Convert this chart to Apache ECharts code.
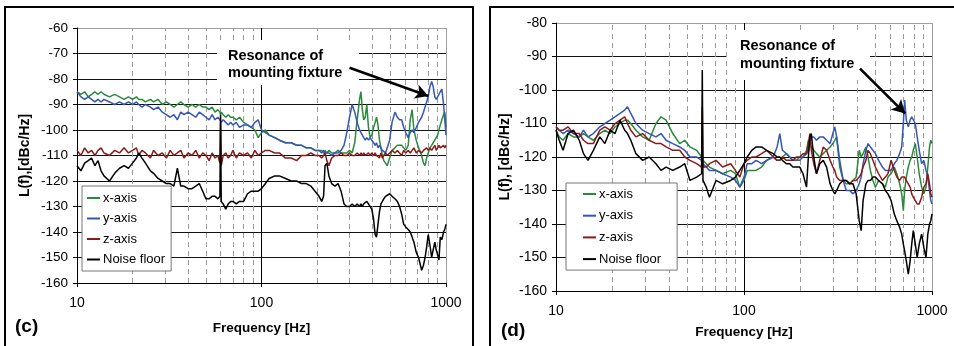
<!DOCTYPE html>
<html>
<head>
<meta charset="utf-8">
<script src="https://cdn.jsdelivr.net/npm/echarts@6/dist/echarts.min.js"></script>
<style>
  html, body { margin: 0; padding: 0; background: #fff; }
  #chart { width: 954px; height: 346px; }
</style>
</head>
<body>
<div id="chart"></div>
<script>
// legend names, shared by both panels
const seriesNames = ['x-axis', 'y-axis', 'z-axis', 'Noise floor'];
// dashed vertical grid lines (Hz)
const minorFreqs = [20, 30, 40, 50, 60, 70, 80, 90, 200, 300, 400, 500, 600, 700, 800, 900];

// ---- panel (c) ----
const freqC = [
  10, 10.5, 11, 11.5, 12, 12.5, 13, 13.5, 14, 15,
  16, 17, 18, 19, 20, 21, 21.6, 22.5, 23.5, 25,
  26, 27.5, 29, 30.5, 32, 33.5, 35, 36.5, 38, 40,
  42, 44, 46, 48, 50, 52, 54, 56, 58, 59.5,
  60, 60.5, 62, 64, 66, 68, 70, 73, 76, 80,
  84, 88, 92, 96, 100, 105, 110, 118, 125, 135,
  145, 155, 165, 175, 185, 195, 205, 212, 217, 221,
  226, 232, 240, 250, 260, 270, 280, 290, 300, 310,
  320, 330, 340, 346, 352, 358, 365, 372, 380, 388,
  396, 405, 413, 420, 428, 436, 444, 452, 460, 470,
  480, 495, 510, 529, 545, 560, 575, 590, 605, 624,
  640, 655, 670, 690, 710, 738, 755, 770, 785, 801,
  818, 836, 852, 870, 885, 901, 916, 931, 950, 970,
  985, 1000
];
const cX = [
  -85, -86, -85, -87, -86, -85, -86, -85, -86, -87,
  -86, -87, -88, -87, -88, -87, -88, -88, -89, -88,
  -89, -88, -90, -89, -90, -91, -90, -89, -90, -91,
  -90, -91, -90, -91, -91, -92, -91, -93, -92, -93,
  -94, -93, -94, -95, -94, -95, -95, -96, -95, -97,
  -98, -99, -100, -103, -101, -100, -102, -103, -104, -105,
  -105, -106, -106, -107, -107, -108, -108, -108, -109, -108,
  -109, -108, -109, -109, -108, -109, -109, -109, -108, -109,
  -105, -96, -88, -85, -92, -96, -95, -90, -99, -103,
  -102, -99, -97, -95, -98, -104, -107, -110, -112, -113,
  -114, -111, -108, -107, -106, -106, -106, -107, -108, -106,
  -96, -92, -100, -104, -107, -110, -113, -114, -111, -109,
  -107, -106, -105, -105, -103, -102, -100, -98, -96, -94,
  -93, -99
];
const cY = [
  -85, -87, -88, -87, -88, -89, -88, -89, -88, -89,
  -90, -89, -90, -89, -90, -89, -90, -91, -90, -91,
  -92, -91, -93, -94, -95, -94, -96, -93, -94, -93,
  -94, -95, -93, -94, -95, -96, -94, -96, -95, -96,
  -96, -97, -96, -97, -98, -97, -98, -97, -99, -98,
  -98, -99, -97, -96, -100, -101, -102, -103, -104, -105,
  -105, -106, -106, -107, -107, -108, -108, -109, -108, -109,
  -109, -109, -110, -109, -109, -108, -106, -101, -95, -90,
  -93, -97, -100, -101, -102, -103, -104, -103, -104, -103,
  -104, -105, -106, -105, -107, -106, -107, -108, -108, -109,
  -109, -104, -97, -93, -95, -96, -96, -99, -101, -103,
  -101, -100, -101, -99, -97, -95, -93, -91, -89, -87,
  -83, -81, -83, -87, -88, -87, -86, -85, -84, -90,
  -96, -102
];
const cZ = [
  -108, -110, -107, -109, -108, -110, -108, -107, -109, -110,
  -108, -109, -107, -109, -108, -107, -110, -108, -109, -111,
  -108, -110, -109, -111, -108, -110, -109, -108, -111, -109,
  -110, -108, -111, -109, -110, -112, -109, -111, -110, -113,
  -97, -114, -110, -109, -111, -110, -108, -111, -109, -110,
  -109, -111, -108, -110, -109, -108, -108, -109, -109, -111,
  -111, -112, -110, -110, -109, -110, -110, -111, -110, -109,
  -112, -114, -111, -110, -110, -109, -110, -110, -109, -110,
  -110, -109, -110, -109, -110, -109, -110, -110, -109, -110,
  -109, -110, -109, -110, -110, -111, -109, -111, -110, -109,
  -110, -109, -108, -109, -108, -109, -110, -108, -109, -108,
  -109, -108, -107, -109, -108, -109, -108, -108, -107, -108,
  -107, -108, -107, -106, -108, -107, -106, -107, -107, -106,
  -107, -106
];
const cNoise = [
  -114, -116, -113, -112, -111, -114, -112, -116, -118, -120,
  -117, -115, -114, -115, -113, -111, -109, -111, -113, -116,
  -117, -119, -120, -121, -121, -122, -115, -122, -122, -123,
  -123, -122, -121, -124, -127, -127, -126, -126, -127, -126,
  -94, -128, -129, -131, -129, -128, -128, -129, -128, -128,
  -125, -124, -124, -124, -123, -121, -119, -118, -118, -119,
  -120, -120, -121, -121, -122, -124, -126, -128, -126, -114,
  -113, -118, -121, -122, -121, -124, -129, -130, -130, -129,
  -130, -129, -130, -129, -130, -129, -129, -128, -129, -129,
  -131, -135, -141, -142, -137, -132, -129, -128, -127, -126,
  -126, -125, -126, -127, -128, -130, -133, -137, -138, -139,
  -140, -142, -144, -148, -150, -155, -153, -150, -146, -141,
  -145, -150, -147, -144, -147, -149, -151, -142, -143, -140,
  -139, -137
];

// ---- panel (d) ----
const freqD = [
  10, 10.4, 10.9, 11.6, 12.4, 13.3, 14, 14.8, 15.8, 17.1,
  18.2, 19.4, 20.6, 21.9, 23.2, 24, 25, 26.6, 28.9, 31.3,
  34, 36.2, 38.5, 41.8, 45.5, 48.4, 51.6, 56, 59.5, 60,
  60.5, 63, 65.5, 71, 77, 85, 90, 95, 100, 104,
  110, 116, 124, 132, 143, 150, 155, 160, 168, 175,
  182, 190, 198, 206, 215, 220, 224, 228, 235, 243,
  253, 264, 275, 287, 297, 304, 311, 323, 337, 350,
  365, 380, 395, 410, 420, 430, 445, 457, 470, 485,
  500, 520, 545, 565, 583, 606, 630, 650, 673, 690,
  704, 715, 730, 748, 765, 780, 795, 815, 834, 855,
  881, 905, 929, 950, 970, 985, 1000
];
const dX = [
  -112, -114, -115, -113, -114, -114, -113, -114, -115, -113,
  -112, -113, -111, -110, -109, -109, -110, -112, -114, -115,
  -110, -108, -109, -113, -116, -115, -117, -118, -120, -120,
  -121, -122, -123, -124, -125, -124, -125, -129, -127, -124,
  -124, -124, -123, -121, -120, -121, -121, -120, -119, -120,
  -121, -121, -120, -120, -118, -115, -116, -117, -118, -119,
  -120, -119, -118, -117, -116, -115, -114, -123, -127, -128,
  -128, -127, -126, -118, -120, -119, -117, -120, -124, -127,
  -129, -127, -128, -129, -126, -125, -123, -125, -128, -131,
  -136, -130, -126, -123, -121, -120, -118, -116, -120, -125,
  -129, -131, -129, -123, -117, -115, -116
];
const dY = [
  -111, -112, -113, -112, -113, -114, -112, -114, -113, -111,
  -110, -109, -108, -107, -106, -105, -107, -110, -112, -113,
  -114, -113, -115, -116, -117, -118, -120, -120, -121, -121,
  -122, -123, -124, -124, -125, -126, -127, -129, -126, -122,
  -122, -121, -122, -121, -120, -117, -113, -118, -119, -120,
  -121, -121, -121, -120, -119, -118, -116, -114, -114, -115,
  -114, -114, -115, -116, -113, -111, -114, -121, -127, -130,
  -130, -131, -130, -128, -126, -122, -118, -116, -117, -118,
  -119, -121, -123, -124, -124, -124, -122, -121, -119, -117,
  -110, -103, -109, -111, -109, -108, -108, -110, -114, -118,
  -122, -121, -124, -126, -130, -133, -134
];
const dZ = [
  -111, -112, -112, -111, -113, -113, -115, -116, -116, -112,
  -111, -112, -110, -109, -108, -110, -112, -114, -113, -115,
  -116, -116, -117, -118, -118, -120, -121, -122, -123, -105,
  -123, -123, -122, -121, -123, -122, -124, -126, -122, -121,
  -120, -120, -119, -118, -120, -121, -121, -120, -121, -121,
  -121, -120, -120, -119, -119, -116, -113, -118, -122, -125,
  -121, -117, -118, -121, -123, -124, -126, -127, -127, -127,
  -128, -127, -127, -126, -125, -123, -121, -118, -119, -121,
  -123, -125, -127, -126, -125, -121, -124, -126, -127, -126,
  -126, -126, -127, -128, -129, -131, -132, -133, -134, -134,
  -132, -129, -128, -125, -128, -131, -132
];
const dNoise = [
  -112, -115, -118, -113, -112, -115, -119, -121, -118, -114,
  -116, -112, -113, -109, -112, -113, -115, -119, -121, -120,
  -122, -124, -123, -124, -123, -122, -127, -126, -125, -94,
  -127, -129, -132, -127, -128, -127, -126, -124, -122, -120,
  -118, -117, -117, -118, -119, -120, -120, -121, -122, -122,
  -123, -123, -123, -125, -129, -120, -114, -113, -120, -125,
  -122, -121, -123, -128, -130, -131, -130, -128, -127, -127,
  -128, -128, -131, -139, -142, -133, -128, -127, -127, -126,
  -126, -127, -128, -130, -131, -133, -137, -139, -141, -143,
  -146, -148, -151, -155, -151, -146, -142, -146, -150, -146,
  -143, -147, -150, -143, -140, -139, -137
];

// arrow ends [freq, dB]
const arrowC = [[300, -75.6], [802, -86.7]];
const arrowD = [[414, -93.6], [719, -107]];

const FONT = '"Liberation Sans", Arial, sans-serif';
const colors = ['#2a8a3c', '#3556b8', '#8b1a1a', '#000000'];

function pairs(f, v) {
    return f.map(function (x, i) { return [x, v[i]]; });
}

function dataSeries(idx, values) {
    let freq = idx === 0 ? freqC : freqD;
    return values.map(function (v, i) {
        return {
            name: seriesNames[i],
            type: 'line',
            xAxisIndex: idx,
            yAxisIndex: idx,
            showSymbol: false,
            symbol: 'none',
            z: 2,
            lineStyle: { width: 1.5, color: colors[i] },
            itemStyle: { color: colors[i] },
            data: pairs(freq, v)
        };
    });
}

function gridLineSeries(idx) {
    return {
        name: 'grid' + idx,
        type: 'line',
        xAxisIndex: idx,
        yAxisIndex: idx,
        data: [],
        silent: true,
        markLine: {
            z: 1,
            silent: true,
            symbol: ['none', 'none'],
            label: { show: false },
            lineStyle: { color: '#9a9a9a', width: 1, type: [5, 4] },
            data: minorFreqs.map(function (f) { return { xAxis: f }; })
        }
    };
}

function arrowSeries(idx, ends) {
    return {
        name: 'arrow' + idx,
        type: 'line',
        xAxisIndex: idx,
        yAxisIndex: idx,
        data: [],
        silent: true,
        markLine: {
            z: 6,
            silent: true,
            symbol: ['none', 'arrow'],
            symbolSize: [11, 13],
            label: { show: false },
            lineStyle: { color: '#000', width: 2.6, type: 'solid' },
            data: [[{ coord: ends[0] }, { coord: ends[1] }]]
        }
    };
}

function xAxisOf(idx, gap) {
    return {
        type: 'log',
        logBase: 10,
        gridIndex: idx,
        min: 10,
        max: 1000,
        name: 'Frequency [Hz]',
        nameLocation: 'middle',
        nameGap: gap,
        nameTextStyle: { fontFamily: FONT, fontWeight: 'bold', fontSize: 13.5, color: '#000' },
        axisLine: { lineStyle: { color: '#000', width: 1 } },
        axisTick: { show: true, length: 4, lineStyle: { color: '#000' } },
        axisLabel: {
            fontFamily: FONT, fontSize: 14, color: '#000', margin: 13,
            formatter: function (v) { return String(Math.round(v)); }
        },
        splitLine: { show: true, lineStyle: { color: ['#000', '#000', '#a0a0a0'], width: 1 } }
    };
}

function yAxisOf(idx, min, max, name, gap, fs) {
    let n = (max - min) / 10;
    let lineColors = [];
    for (let i = 0; i < n; i++) lineColors.push('#111');
    lineColors.push('#a0a0a0');
    return {
        type: 'value',
        gridIndex: idx,
        min: min,
        max: max,
        interval: 10,
        name: name,
        nameLocation: 'middle',
        nameGap: gap,
        nameRotate: 90,
        nameTextStyle: { fontFamily: FONT, fontWeight: 'bold', fontSize: 14, color: '#000' },
        axisLine: { show: true, lineStyle: { color: '#000', width: 1 } },
        axisTick: { show: true, length: 4, lineStyle: { color: '#000' } },
        axisLabel: { fontFamily: FONT, fontSize: fs, color: '#000', margin: 9 },
        splitLine: { show: true, lineStyle: { color: lineColors, width: 1 } }
    };
}

function legendOf(left, top, gap, padding) {
    return {
        data: seriesNames,
        orient: 'vertical',
        left: left,
        top: top,
        icon: 'rect',
        itemWidth: 13,
        itemHeight: 2,
        itemGap: gap,
        padding: padding,
        backgroundColor: '#fff',
        borderColor: '#777',
        borderWidth: 1,
        borderRadius: 0,
        selectedMode: false,
        textStyle: { fontFamily: FONT, fontSize: 13, color: '#000', padding: [0, 0, 0, -2] }
    };
}

let chart = echarts.init(document.getElementById('chart'), null, { renderer: 'canvas' });

let option = {
    backgroundColor: '#fff',
    animation: false,
    grid: [
        { left: 77, top: 28, width: 369, height: 255 },
        { left: 556, top: 23, width: 376, height: 268 }
    ],
    xAxis: [xAxisOf(0, 38), xAxisOf(1, 34)],
    yAxis: [
        yAxisOf(0, -160, -60, 'L(f),[dBc/Hz]', 45, 13.5),
        yAxisOf(1, -160, -80, 'L(f), [dBc/Hz]', 44, 14)
    ],
    legend: [
        legendOf(82, 186, 7.5, [5.5, 6, 5, 5]),
        legendOf(566, 183, 8.7, [4.5, 16, 4.5, 17])
    ],
    series: [].concat(
        [gridLineSeries(0), gridLineSeries(1)],
        dataSeries(0, [cX, cY, cZ, cNoise]),
        dataSeries(1, [dX, dY, dZ, dNoise]),
        [arrowSeries(0, arrowC), arrowSeries(1, arrowD)]
    ),
    graphic: [
        // panel frames
        { type: 'rect', z: 10, silent: true, shape: { x: 5, y: 7, width: 468, height: 360 },
          style: { fill: null, stroke: '#000', lineWidth: 2 } },
        { type: 'rect', z: 10, silent: true, shape: { x: 490, y: 7, width: 500, height: 360 },
          style: { fill: null, stroke: '#000', lineWidth: 2 } },
        // panel letters
        { type: 'text', z: 10, left: 15, top: 317,
          style: { text: '(c)', fontFamily: FONT, fontWeight: 'bold', fontSize: 19, fill: '#000' } },
        { type: 'text', z: 10, left: 501, top: 321,
          style: { text: '(d)', fontFamily: FONT, fontWeight: 'bold', fontSize: 19, fill: '#000' } },
        // annotation boxes
        { type: 'rect', z: 3, silent: true, shape: { x: 217, y: 40, width: 142, height: 45 },
          style: { fill: '#fff' } },
        { type: 'rect', z: 3, silent: true, shape: { x: 727, y: 30, width: 143, height: 50 },
          style: { fill: '#fff' } },
        { type: 'text', z: 7, left: 228, top: 47,
          style: { text: 'Resonance of\nmounting fixture', fontFamily: FONT, fontWeight: 'bold',
                   fontSize: 14.5, lineHeight: 17, fill: '#000' } },
        { type: 'text', z: 7, left: 740, top: 37,
          style: { text: 'Resonance of\nmounting fixture', fontFamily: FONT, fontWeight: 'bold',
                   fontSize: 14.5, lineHeight: 18, fill: '#000' } }
    ]
};

chart.setOption(option);
</script>
</body>
</html>
